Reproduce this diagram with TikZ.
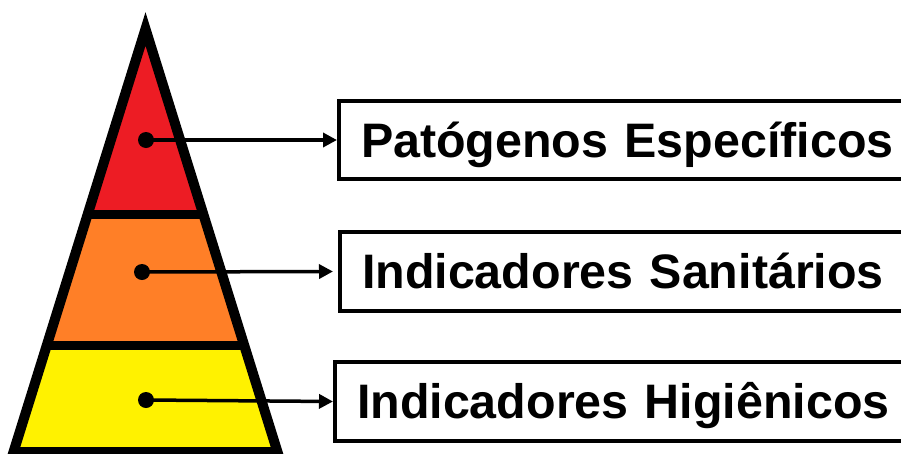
\documentclass[tikz,border=0pt]{standalone}
\usepackage{fontspec}
\setmainfont{Liberation Sans}
\usetikzlibrary{arrows.meta}
\definecolor{pyrred}{HTML}{ED1C24}
\definecolor{pyrorange}{HTML}{FF7F27}
\definecolor{pyryellow}{HTML}{FFF200}
\tikzset{
  labelbox/.style={draw=black, line width=4pt, fill=white, anchor=west,
    minimum height=79pt, text width=540pt, align=left, inner xsep=22pt, inner ysep=0pt,
    text height=34.7pt, text depth=0pt,
    font=\fontsize{48.4pt}{58pt}\selectfont\bfseries},
  dotmark/.style={circle, fill=black, minimum size=16pt, inner sep=0pt},
  pointer/.style={line width=3.5pt, -{Triangle[length=14pt,width=14pt]}},
  outline/.style={line width=10pt, line join=miter, draw=black},
  divider/.style={line width=9pt, draw=black}
}
\begin{document}
\begin{tikzpicture}[x=1pt,y=-1pt]
\useasboundingbox (0,0) rectangle (901,453);
\clip (0,0) rectangle (901,453);
\fill[white] (0,0) rectangle (901,453);
% pyramid
\coordinate (A) at (145.5,29);
\coordinate (BL) at (13.5,452);
\coordinate (BR) at (277.5,452);
\begin{scope}
  \clip (A) -- (BL) -- (BR) -- cycle;
  \fill[pyrred] (0,0) rectangle (300,214);
  \fill[pyrorange] (0,214) rectangle (300,345);
  \fill[pyryellow] (0,345) rectangle (300,470);
  \draw[divider] (0,214.5) -- (300,214.5);
  \draw[divider] (0,345) -- (300,345);
\end{scope}
\draw[outline] (A) -- (BL) -- (BR) -- cycle;
% dots
\node[dotmark] (d1) at (146,140) {};
\node[dotmark] (d2) at (142,272) {};
\node[dotmark] (d3) at (146,400) {};
% boxes
\node[labelbox, minimum height=78pt] (b1) at (337,140) {Patógenos Específicos};
\node[labelbox] (b2) at (338,271.5) {Indicadores Sanitários};
\node[labelbox] (b3) at (333,401.5) {Indicadores Higiênicos};
% arrows
\draw[pointer] (d1.center) -- (b1.west);
\draw[pointer] (d2.center) -- ([xshift=-5pt]b2.west);
\draw[pointer] (d3.center) -- (b3.west);
\end{tikzpicture}
\end{document}
